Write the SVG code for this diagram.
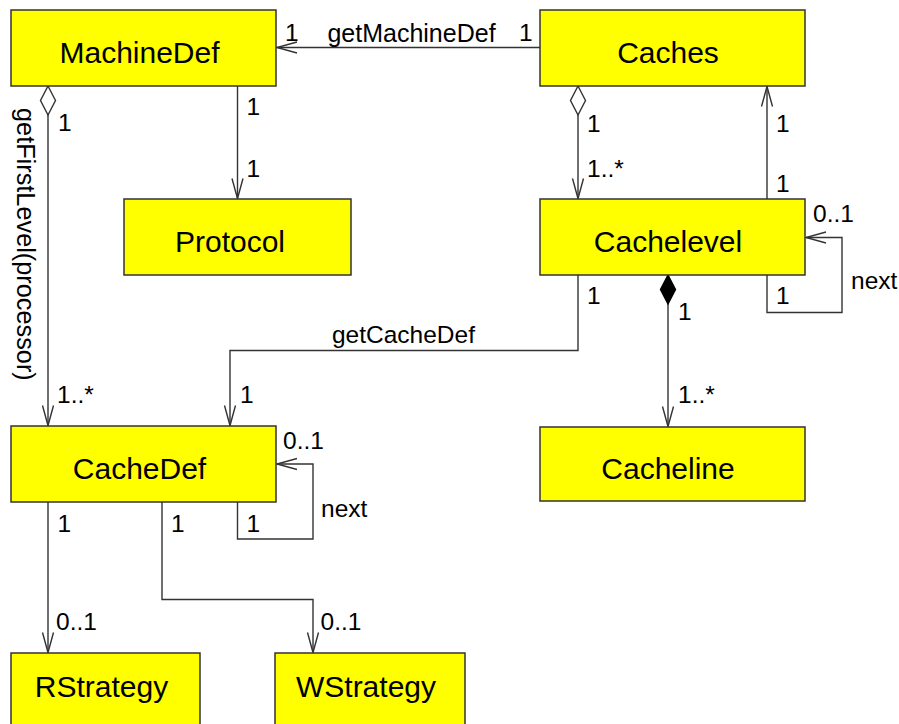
<svg xmlns="http://www.w3.org/2000/svg" width="899" height="724" viewBox="0 0 899 724">
<style>
.box{fill:#ffff00;stroke:#333333;stroke-width:1.5}
.nt{font-family:"Liberation Sans",Arial,sans-serif;font-size:30px;fill:#000;text-anchor:middle}
.lb{font-family:"Liberation Sans",Arial,sans-serif;font-size:24.5px;fill:#000}
.ln{fill:none;stroke:#333333;stroke-width:1.4}
</style>
<defs>
<marker id="arr" markerUnits="userSpaceOnUse" orient="auto" refX="0" refY="0" markerWidth="30" markerHeight="20" style="overflow:visible">
<path d="M-20,-5.5 L0,0 L-20,5.5" fill="none" stroke="#333333" stroke-width="1.4"/>
</marker>
<marker id="dia" markerUnits="userSpaceOnUse" orient="auto" refX="0" refY="0" markerWidth="40" markerHeight="20" style="overflow:visible">
<path d="M0,0 L14.5,-7.5 L29,0 L14.5,7.5 Z" fill="#ffffff" stroke="#333333" stroke-width="1.4"/>
</marker>
<marker id="fdia" markerUnits="userSpaceOnUse" orient="auto" refX="0" refY="0" markerWidth="40" markerHeight="20" style="overflow:visible">
<path d="M0,0 L14.5,-7.5 L29,0 L14.5,7.5 Z" fill="#000000" stroke="#000000" stroke-width="1.4"/>
</marker>
</defs>
<rect width="899" height="724" fill="#ffffff"/>
<g id="connectors">
<path class="ln" d="M540,47.5 L277,47.5" marker-end="url(#arr)"/>
<path class="ln" d="M237.5,86 V198.5" marker-end="url(#arr)"/>
<path class="ln" d="M48,86 V425.5" marker-start="url(#dia)" marker-end="url(#arr)"/>
<path class="ln" d="M578,86 V198.5" marker-start="url(#dia)" marker-end="url(#arr)"/>
<path class="ln" d="M767,199 V86.5" marker-end="url(#arr)"/>
<path class="ln" d="M767,275 V312.5 H842 V237.5 H806" marker-end="url(#arr)"/>
<path class="ln" d="M668,275 V426.5" marker-start="url(#fdia)" marker-end="url(#arr)"/>
<path class="ln" d="M578,275 V350.5 H230 V425.5" marker-end="url(#arr)"/>
<path class="ln" d="M237.5,502 V539 H313 V464 H277" marker-end="url(#arr)"/>
<path class="ln" d="M48,502 V652.5" marker-end="url(#arr)"/>
<path class="ln" d="M162,502 V599.5 H313 V652.5" marker-end="url(#arr)"/>
<text class="lb" x="285" y="41">1</text>
<text class="lb" x="411.5" y="41.5" text-anchor="middle" style="font-size:25px">getMachineDef</text>
<text class="lb" x="519" y="40.5">1</text>
<text class="lb" x="246.5" y="115">1</text>
<text class="lb" x="246.5" y="177">1</text>
<text class="lb" x="58" y="131">1</text>
<text class="lb" x="57" y="403">1..*</text>
<text class="lb" transform="translate(17,108) rotate(90)" style="font-size:25.3px">getFirstLevel(processor)</text>
<text class="lb" x="587" y="132">1</text>
<text class="lb" x="587" y="177">1..*</text>
<text class="lb" x="776" y="132">1</text>
<text class="lb" x="776" y="192">1</text>
<text class="lb" x="813" y="222">0..1</text>
<text class="lb" x="851" y="289">next</text>
<text class="lb" x="776" y="304">1</text>
<text class="lb" x="587" y="304">1</text>
<text class="lb" x="403.5" y="343" text-anchor="middle">getCacheDef</text>
<text class="lb" x="678" y="319.5">1</text>
<text class="lb" x="678" y="403">1..*</text>
<text class="lb" x="240" y="403">1</text>
<text class="lb" x="283" y="449">0..1</text>
<text class="lb" x="321" y="517">next</text>
<text class="lb" x="246.5" y="532">1</text>
<text class="lb" x="57.5" y="532">1</text>
<text class="lb" x="171" y="532">1</text>
<text class="lb" x="56" y="629.5">0..1</text>
<text class="lb" x="320.5" y="629.5">0..1</text>
</g>
<g id="MachineDef"><rect class="box" x="11" y="10" width="265" height="76"/><text class="nt" x="139.5" y="63">MachineDef</text></g>
<g id="Caches"><rect class="box" x="540" y="10" width="265" height="76"/><text class="nt" x="668" y="63">Caches</text></g>
<g id="Protocol"><rect class="box" x="124" y="199" width="227" height="76"/><text class="nt" x="230" y="252">Protocol</text></g>
<g id="Cachelevel"><rect class="box" x="540" y="199" width="265" height="76"/><text class="nt" x="668" y="252">Cachelevel</text></g>
<g id="CacheDef"><rect class="box" x="11" y="426" width="265" height="76"/><text class="nt" x="139.5" y="478.5">CacheDef</text></g>
<g id="Cacheline"><rect class="box" x="540" y="427" width="265" height="74"/><text class="nt" x="668" y="478.5">Cacheline</text></g>
<g id="RStrategy"><rect class="box" x="11" y="653" width="189" height="80"/><text class="nt" x="101.5" y="697">RStrategy</text></g>
<g id="WStrategy"><rect class="box" x="275" y="653" width="190" height="80"/><text class="nt" x="366" y="697">WStrategy</text></g>
</svg>
